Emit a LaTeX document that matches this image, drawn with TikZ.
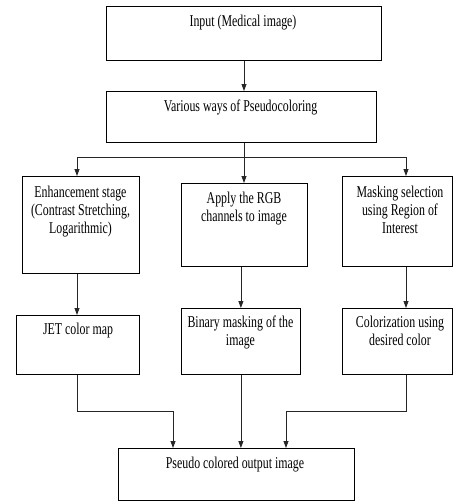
\documentclass[tikz,border=0pt]{standalone}
\usepackage{fontspec}
\setmainfont[FakeStretch=0.72]{Liberation Serif}
\usetikzlibrary{arrows.meta}
\begin{document}
\begin{tikzpicture}[x=1pt,y=-1pt,
  box/.style={draw=black,line width=0.8pt,inner sep=0pt,anchor=north west},
  txt/.style={inner sep=0pt,anchor=base,align=center,font=\fontsize{16.5}{18.3}\selectfont},
  conn/.style={draw=black!85,line width=0.8pt},
  arr/.style={conn,-{Triangle[length=7pt,width=5pt]}}]
\useasboundingbox (0,0) rectangle (453,501);
% boxes
\node[box,minimum width=275pt,minimum height=54pt] (b1) at (106,6) {};
\node[box,minimum width=270pt,minimum height=51pt] (b2) at (106,91) {};
\node[box,minimum width=117pt,minimum height=97pt] (b3) at (22,176) {};
\node[box,minimum width=126pt,minimum height=83pt] (b4) at (181,183) {};
\node[box,minimum width=110pt,minimum height=90pt] (b5) at (342,176) {};
\node[box,minimum width=123pt,minimum height=59pt] (b6) at (16,315) {};
\node[box,minimum width=119pt,minimum height=66pt] (b7) at (181,308) {};
\node[box,minimum width=110pt,minimum height=66pt] (b8) at (342,308) {};
\node[box,minimum width=236pt,minimum height=52pt] (b9) at (118,448) {};
% texts (base anchor = last line baseline)
\node[txt] (t1) at (243,26) {Input (Medical image)};
\node[txt] (t2) at (240.5,111) {Various ways of Pseudocoloring};
\node[txt] (t3) at (80.5,233.6) {Enhancement stage\\(Contrast Stretching,\\Logarithmic)};
\node[txt] (t4) at (244,221.3) {Apply the RGB\\channels to image};
\node[txt] (t5) at (400,233.6) {Masking selection\\using Region of\\Interest};
\node[txt] (t6) at (78,334) {JET color map};
\node[txt] (t7) at (240.5,345.3) {Binary masking of the\\image};
\node[txt] (t8) at (400,345.3) {Colorization using\\desired color};
\node[txt] (t9) at (235,468) {Pseudo colored output image};
% connectors
\coordinate (sp) at (244,157);
\coordinate (jl) at (77,157);
\coordinate (jr) at (406,157);
\coordinate (m1) at (173,411);
\coordinate (m2) at (286,411);
\draw[arr] (sp |- b1.south) -- (sp |- b2.north);
\draw[conn] (sp |- b2.south) -- (sp);
\draw[conn] (jl) -- (jr);
\draw[arr] (jl) -- (jl |- b3.north);
\draw[arr] (sp) -- (sp |- b4.north);
\draw[arr] (jr) -- (jr |- b5.north);
\draw[arr] (jl |- b3.south) -- (jl |- b6.north);
\draw[arr] (b7.north |- b4.south) -- (b7.north);
\draw[arr] (jr |- b5.south) -- (jr |- b8.north);
\draw[arr] (jl |- b6.south) |- (m1) -- (m1 |- b9.north);
\draw[arr] (b7.south) -- (b7.south |- b9.north);
\draw[arr] (jr |- b8.south) |- (m2) -- (m2 |- b9.north);
\end{tikzpicture}
\end{document}
